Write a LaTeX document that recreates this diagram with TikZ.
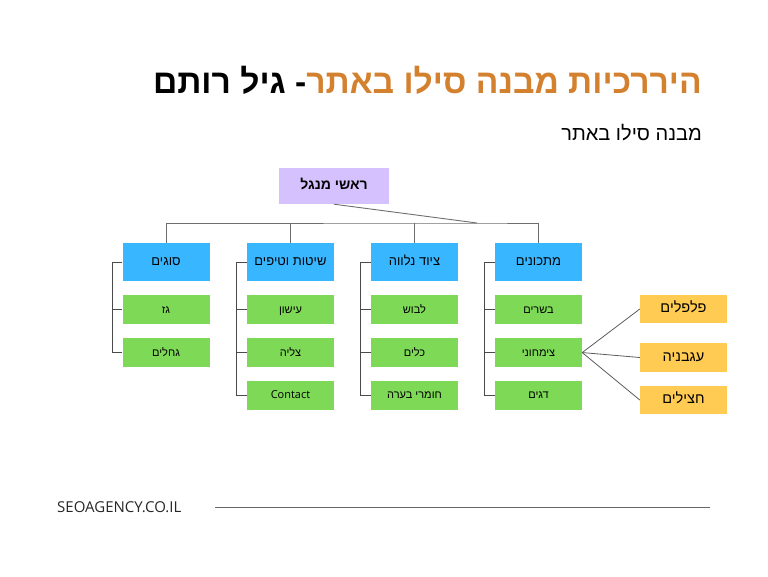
\documentclass[tikz,border=0pt]{standalone}
\usepackage{fontspec}
\setmainfont{Open Sans}
\newfontfamily\hebfont[Script=Hebrew]{Liberation Sans}
\TeXXeTstate=1
\usetikzlibrary{positioning}
\definecolor{silBlue}{HTML}{38B6FF}
\definecolor{silGreen}{HTML}{7ED957}
\definecolor{silLilac}{HTML}{D4C1FD}
\definecolor{silYellow}{HTML}{FFCB52}
\definecolor{silOrange}{HTML}{D4812F}
\definecolor{silLine}{HTML}{4A4A4A}
\tikzset{
  catbox/.style={fill=silBlue, minimum width=87pt, minimum height=38pt,
              inner sep=0pt, text height=0.7em, text depth=0pt,
              font=\fontsize{13}{15}\selectfont},
  itembox/.style={fill=silGreen, minimum width=87pt, minimum height=28.5pt,
              inner sep=0pt, text height=0.7em, text depth=0pt,
              font=\fontsize{11}{13}\selectfont},
  rootbox/.style={fill=silLilac, minimum width=110pt, minimum height=36pt,
              inner sep=0pt, text height=0.7em, text depth=0pt,
              font=\fontsize{14}{16}\selectfont\bfseries},
  subbox/.style={fill=silYellow, minimum width=87pt, minimum height=28.5pt,
              inner sep=0pt, text height=0.7em, text depth=0pt,
              font=\fontsize{14.5}{17}\selectfont},
  ttl/.style={font=\fontsize{33.6}{38}\selectfont\bfseries, inner sep=0pt},
  subttl/.style={font=\fontsize{20}{24}\selectfont, inner sep=0pt},
  foot/.style={font=\fontsize{15}{17}\selectfont, text=black!85, inner sep=0pt},
  bus/.style={draw=silLine!80, line width=0.9pt},
  bracket/.style={draw=silLine, line width=0.9pt},
  fan/.style={draw=silLine!90, line width=0.8pt},
  rulel/.style={draw=silLine!85, line width=0.9pt},
}
\newcommand{\heb}[1]{{\hebfont\beginR #1\endR}}

\begin{document}
\begin{tikzpicture}[x=1pt,y=-1pt,node distance=14pt]
        \useasboundingbox (0,0) rectangle (768,576);
        \node[ttl,anchor=east] (title) at (702,80)
              {\hebfont\beginR- גיל רותם\endR{\color{silOrange}\beginR היררכיות מבנה סילו באתר\endR}};
        \node[subttl,anchor=east] (subtitle) at (702,133) {\heb{מבנה סילו באתר}};
        \node[rootbox] (root) at (334,186) {\heb{ראשי מנגל}};
        \node[catbox] (c1) at (166,262) {\heb{סוגים}};
        \node[catbox] (c2) at (290.5,262) {\heb{שיטות וטיפים}};
        \node[catbox] (c3) at (414.5,262) {\heb{ציוד נלווה}};
        \node[catbox] (c4) at (538.5,262) {\heb{מתכונים}};
        \node[itembox,below=of c1] (c1a) {\heb{גז}};
        \node[itembox,below=of c1a] (c1b) {\heb{גחלים}};
        \node[itembox,below=of c2] (c2a) {\heb{עישון}};
        \node[itembox,below=of c2a] (c2b) {\heb{צליה}};
        \node[itembox,below=of c2b] (c2c) {Contact};
        \node[itembox,below=of c3] (c3a) {\heb{לבוש}};
        \node[itembox,below=of c3a] (c3b) {\heb{כלים}};
        \node[itembox,below=of c3b] (c3c) {\heb{חומרי בערה}};
        \node[itembox,below=of c4] (c4a) {\heb{בשרים}};
        \node[itembox,below=of c4a] (c4b) {\heb{צימחוני}};
        \node[itembox,below=of c4b] (c4c) {\heb{דגים}};
        \node[subbox] (v1) at (683.5,309) {\heb{פלפלים}};
        \node[subbox] (v2) at (683.5,357.5) {\heb{עגבניה}};
        \node[subbox] (v3) at (683.5,400) {\heb{חצילים}};
        \coordinate (joint) at (477,223);
        \draw[bus] (c1.north) |- (joint) -| (c4.north);
        \foreach \c in {c2,c3}{\draw[bus] (\c.north) -- (\c.north |- joint);}
        \draw[bus] (root.south) -- (joint);
        \foreach \c/\l in {c1/c1b,c2/c2c,c3/c3c,c4/c4c}{\draw[bracket] (\c.west) -- ++(-10,0) |- (\l.west);}
        \foreach \n in {c1a,c2a,c2b,c3a,c3b,c4a,c4b}{\draw[bracket] (\n.west) -- ++(-10,0);}
        \foreach \v in {v1,v2,v3}{\draw[fan] (c4b.east) -- (\v.west);}
        \node[foot,anchor=west] (site) at (57,507) {SEOAGENCY.CO.IL};
        \coordinate (ruleA) at (215,507);
        \coordinate (ruleB) at (710,507);
        \draw[rulel] (ruleA) -- (ruleB);
      \end{tikzpicture}
\end{document}
